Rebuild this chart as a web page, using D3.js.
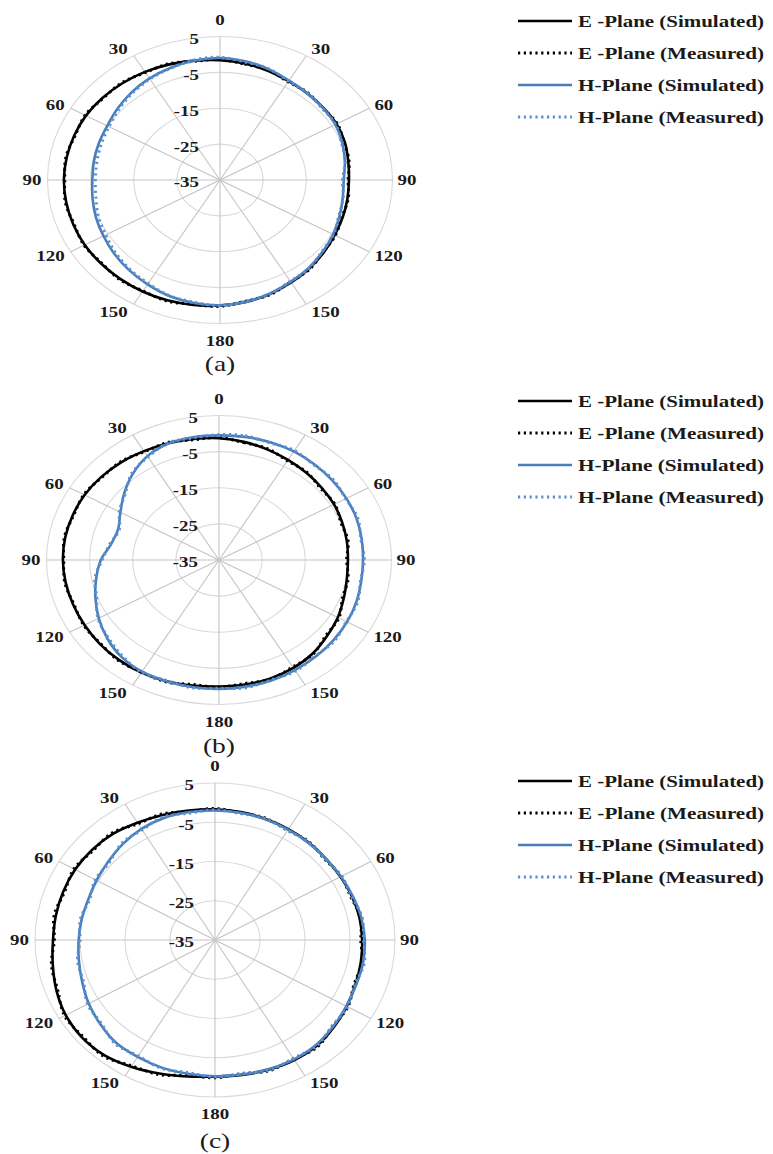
<!DOCTYPE html>
<html>
<head>
<meta charset="utf-8">
<script src="https://cdn.jsdelivr.net/npm/d3@7"></script>
<style>
  html, body { margin: 0; padding: 0; background: #fff; }
  svg text { font-family: "Liberation Serif", "Times New Roman", serif; fill: #1a1a1a; }
</style>
</head>
<body>
<svg id="fig" width="773" height="1154"></svg>
<script>
// Azimuth of each sample, degrees clockwise from boresight (0 at top)
const angles = [0,10,20,30,40,50,60,70,80,90,100,110,120,130,140,150,160,170,
                180,190,200,210,220,230,240,250,260,270,280,290,300,310,320,330,340,350];
// Angular tick positions (labels fold back to 0..180 on both sides)
const spokeAngles = [0,30,60,90,120,150,180,210,240,270,300,330];
// Radial gain axis, dB
const ringValues = [5, -5, -15, -25, -35];
const gainDomain = [-35, 5];

const seriesNames = ["E -Plane (Simulated)", "E -Plane (Measured)", "H-Plane (Simulated)", "H-Plane (Measured)"];
const panelLetters = ["(a)", "(b)", "(c)"];

// Panel (a) gain patterns, dB
const eSimA  = [-1.6,-2.0,-2.6,-3.2,-3.5,-3.7,-3.8,-4.2,-4.8,-5.1,-5.0,-4.7,-4.3,-3.6,-2.8,-2.0,-1.2,-0.5,0.0,0.4,0.7,0.9,1.0,1.1,1.2,1.2,1.2,1.2,1.1,1.0,0.9,0.6,0.2,-0.2,-0.7,-1.2];
const eMeasA = [-1.4,-2.2,-2.4,-3.4,-3.3,-3.9,-3.6,-4.4,-4.6,-5.3,-4.8,-4.9,-4.1,-3.8,-2.6,-2.2,-1.0,-0.7,0.2,0.2,0.9,0.7,1.2,0.9,1.4,1.0,1.4,1.0,1.3,0.8,1.1,0.4,0.4,-0.4,-0.5,-1.4];
const hSimA  = [-1.0,-1.4,-2.1,-3.0,-3.5,-3.8,-4.1,-4.8,-5.6,-6.3,-6.1,-5.5,-4.7,-3.9,-3.0,-2.2,-1.3,-0.5,-0.1,-0.2,-0.6,-1.4,-2.2,-3.0,-3.8,-4.4,-5.0,-5.4,-5.3,-5.1,-4.8,-4.0,-3.1,-2.3,-1.7,-1.2];
const hMeasA = [-0.8,-1.6,-2.0,-3.2,-3.4,-4.0,-4.0,-5.0,-5.5,-6.6,-6.0,-5.7,-4.6,-4.1,-2.9,-2.4,-1.2,-0.7,0.0,-0.4,-0.7,-1.7,-2.5,-3.4,-4.4,-5.0,-5.8,-6.1,-6.0,-5.7,-5.3,-4.4,-3.4,-2.5,-1.8,-1.0];

// Panel (b) gain patterns, dB
const eSimB  = [-1.3,-1.8,-2.4,-3.0,-3.5,-3.9,-4.2,-4.6,-4.9,-5.1,-4.9,-4.2,-3.2,-2.3,-1.2,-0.5,-0.1,0.0,0.0,0.3,0.7,1.0,1.1,1.1,1.0,1.0,1.1,1.2,1.2,1.1,1.0,0.7,0.3,-0.2,-0.6,-1.0];
const eMeasB = [-1.1,-2.0,-2.2,-3.3,-3.3,-4.2,-4.0,-4.9,-4.6,-5.4,-4.6,-4.5,-2.9,-2.6,-1.0,-0.8,0.1,-0.3,0.2,0.0,0.9,0.8,1.3,0.9,1.2,0.8,1.3,1.0,1.4,0.9,1.2,0.5,0.5,-0.4,-0.4,-1.2];
const hSimB  = [-0.5,-0.4,-0.3,-0.3,-0.5,-0.7,-0.9,-1.1,-1.4,-1.6,-1.5,-1.1,-0.7,-0.4,-0.1,0.2,0.5,0.6,0.7,0.7,0.7,0.7,0.1,-1.2,-2.8,-4.5,-6.1,-7.6,-9.6,-10.1,-8.6,-6.3,-3.9,-1.8,-0.7,-0.5];
const hMeasB = [-0.3,-0.1,-0.5,0.0,-0.7,-0.4,-1.1,-0.8,-1.6,-1.3,-1.7,-0.8,-0.9,-0.1,-0.3,0.5,0.3,0.9,0.5,0.9,0.5,0.9,-0.2,-1.5,-2.6,-4.8,-5.8,-7.9,-9.3,-10.4,-8.3,-6.6,-3.6,-2.1,-0.5,-0.7];

// Panel (c) gain patterns, dB
const eSimC  = [-1.7,-1.9,-2.2,-2.4,-2.6,-2.8,-2.8,-2.6,-2.4,-2.3,-2.1,-1.8,-1.2,-0.5,0.2,0.3,0.1,-0.1,-0.2,0.3,1.2,2.3,3.3,3.6,3.3,2.5,1.6,1.0,0.9,0.9,0.9,0.7,0.3,-0.5,-1.1,-1.5];
const eMeasC = [-1.5,-2.1,-2.0,-2.7,-2.4,-3.1,-2.6,-2.9,-2.1,-2.6,-1.8,-2.1,-0.9,-0.8,0.5,0.0,0.4,-0.4,0.1,0.0,1.5,2.0,3.6,3.3,3.6,2.2,1.9,0.7,1.3,0.6,1.2,0.4,0.6,-0.8,-0.8,-1.8];
const hSimC  = [-2.0,-2.1,-2.3,-2.5,-2.7,-2.8,-2.7,-2.4,-2.0,-1.7,-1.6,-1.6,-1.3,-0.7,-0.1,0.1,0.0,-0.2,-0.3,-0.4,-0.4,-0.6,-0.8,-1.7,-2.6,-3.6,-4.3,-4.7,-4.9,-5.0,-4.6,-4.0,-3.1,-2.3,-1.9,-1.9];
const hMeasC = [-1.8,-2.3,-2.1,-2.8,-2.5,-3.0,-2.5,-2.7,-1.8,-2.0,-1.3,-1.9,-1.0,-1.0,0.2,-0.2,0.3,-0.5,-0.1,-0.7,-0.2,-0.9,-0.5,-2.0,-2.3,-3.9,-4.0,-5.0,-4.6,-5.3,-4.3,-4.3,-2.8,-2.6,-1.6,-2.2];

const panelSeries = [
  [eSimA, eMeasA, hSimA, hMeasA],
  [eSimB, eMeasB, hSimB, hMeasB],
  [eSimC, eMeasC, hSimC, hMeasC]
];

// Line styles per series
const styles = [
  { color: "#000000", width: 2.6, dash: null },
  { color: "#000000", width: 3.0, dash: "2.2 3.6" },
  { color: "#4a7ebb", width: 2.6, dash: null },
  { color: "#5b8fcf", width: 3.0, dash: "2.2 3.6" }
];

// Panel geometry (plot area is stretched horizontally)
const panels = [
  { cx: 220, cy: 180, rx: 172.5, ry: 143.5, legendTop: 21,  caption: 363 },
  { cx: 219, cy: 560, rx: 172.5, ry: 144.5, legendTop: 401, caption: 745 },
  { cx: 215, cy: 940, rx: 180,   ry: 157,   legendTop: 781, caption: 1140 }
];

const svg = d3.select("#fig");
const rad = d => d * Math.PI / 180;
const STRETCH = 1.22;

function stretchedText(g, x, y, txt, opts) {
  return g.append("text")
    .attr("transform", `translate(${x},${y}) scale(${opts.sx || STRETCH},1)`)
    .attr("text-anchor", opts.anchor || "middle")
    .attr("dy", "0.35em")
    .style("font-size", opts.size + "px")
    .style("font-weight", opts.weight || "bold")
    .text(txt);
}

panels.forEach((p, pi) => {
  const g = svg.append("g");
  const r = d3.scaleLinear().domain(gainDomain).range([0, 1]);
  const sx = d3.scaleLinear().domain([-1, 1]).range([p.cx - p.rx, p.cx + p.rx]);
  const sy = d3.scaleLinear().domain([-1, 1]).range([p.cy + p.ry, p.cy - p.ry]);
  const pt = (a, v) => [sx(r(v) * Math.sin(rad(a))), sy(r(v) * Math.cos(rad(a)))];

  // Concentric gain rings
  g.selectAll("ellipse.ring")
    .data(ringValues.filter(v => v > gainDomain[0]))
    .join("ellipse")
    .attr("cx", p.cx).attr("cy", p.cy)
    .attr("rx", v => sx(r(v)) - p.cx)
    .attr("ry", v => p.cy - sy(r(v)))
    .attr("fill", "none")
    .attr("stroke", "#d9d9d9")
    .attr("stroke-width", 1.1);

  // Angular spokes
  g.selectAll("line.spoke")
    .data(spokeAngles)
    .join("line")
    .attr("x1", p.cx).attr("y1", p.cy)
    .attr("x2", a => pt(a, gainDomain[1])[0])
    .attr("y2", a => pt(a, gainDomain[1])[1])
    .attr("stroke", "#c4c4c4")
    .attr("stroke-width", 1.1);

  // Pattern curves
  const line = d3.line().curve(d3.curveCatmullRomClosed.alpha(0.5));
  panelSeries[pi].forEach((vals, si) => {
    const st = styles[si];
    const path = g.append("path")
      .attr("d", line(angles.map((a, i) => pt(a, vals[i]))))
      .attr("fill", "none")
      .attr("stroke", st.color)
      .attr("stroke-width", st.width)
      .attr("stroke-linejoin", "round");
    if (st.dash) path.attr("stroke-dasharray", st.dash);
  });

  // Ring value labels along the top spoke
  ringValues.forEach(v => {
    const y = sy(r(v));
    stretchedText(g, p.cx - 21, y + 2, String(v), { size: 15.5, anchor: "end" });
  });

  // Angle labels
  spokeAngles.forEach(a => {
    const [ex, ey] = pt(a, gainDomain[1]);
    const lbl = String(a <= 180 ? a : 360 - a);
    const s = Math.sin(rad(a)), c = Math.cos(rad(a));
    if (Math.abs(s) < 1e-6) {
      stretchedText(g, ex, ey - c * 17, lbl, { size: 15.5, anchor: "middle" });
    } else {
      stretchedText(g, ex + (s > 0 ? 5 : -6), ey - c * 8, lbl, { size: 15.5, anchor: s > 0 ? "start" : "end" });
    }
  });

  // Caption
  stretchedText(g, p.cx, p.caption, panelLetters[pi], { size: 22, weight: "normal", sx: 1.25 });

  // Legend
  const lg = g.append("g");
  seriesNames.forEach((name, si) => {
    const y = p.legendTop + si * 32;
    const st = styles[si];
    const l = lg.append("line")
      .attr("x1", 518).attr("x2", 572).attr("y1", y).attr("y2", y)
      .attr("stroke", st.color)
      .attr("stroke-width", st.width);
    if (st.dash) l.attr("stroke-dasharray", st.dash);
    lg.append("text")
      .attr("x", 578).attr("y", y)
      .attr("dy", "0.35em")
      .attr("textLength", 186)
      .attr("lengthAdjust", "spacingAndGlyphs")
      .style("font-size", "16px")
      .style("font-weight", "bold")
      .text(name);
  });
});
</script>
</body>
</html>
